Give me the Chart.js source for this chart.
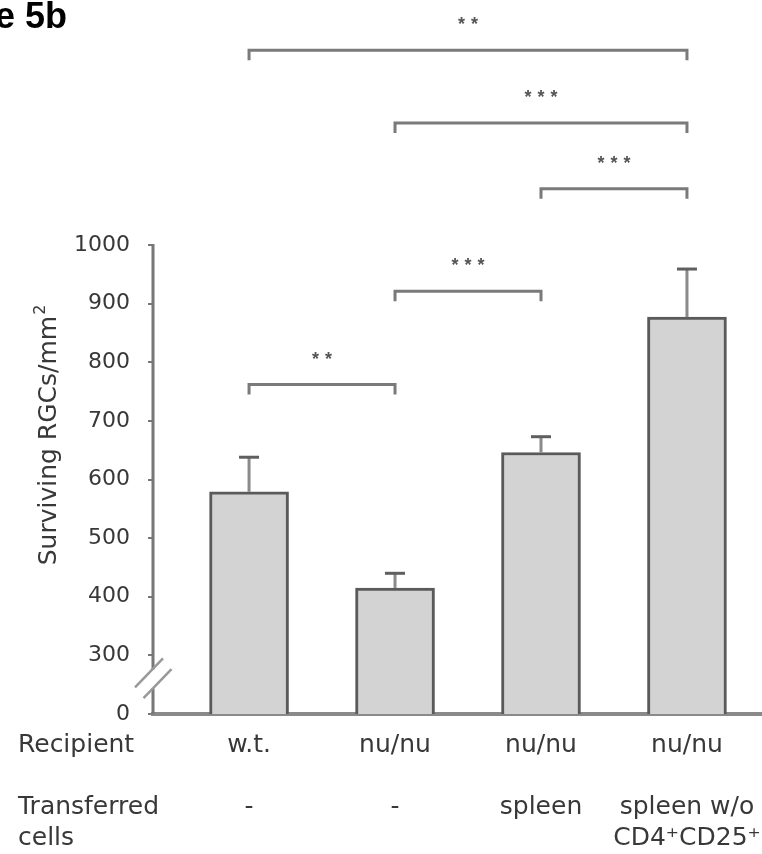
<!DOCTYPE html>
<html><head><meta charset="utf-8">
<script src="https://cdn.jsdelivr.net/npm/chart.js@4/dist/chart.umd.min.js"></script>
<style>html,body{margin:0;padding:0;background:#fff;overflow:hidden}canvas{display:block}</style>
</head><body>
<canvas id="c" width="762" height="854"></canvas>
<script>
// ---- data ----
const recipients = ['w.t.', 'nu/nu', 'nu/nu', 'nu/nu'];
const transferredCells = [['-'], ['-'], ['spleen'], ['spleen w/o', 'CD4⁺CD25⁺']];
const meanRGCs = [579, 415, 646, 877];
const semRGCs = [59, 25, 27, 82];
const yAxisMin = 200;          // shown as "0" below the axis break
const yAxisMax = 1000;
const yAxisStep = 100;
const rowTitles = ['Recipient', '', 'Transferred', 'cells'];
const bracketFrom = [0, 1, 2, 1, 0];
const bracketTo = [1, 2, 3, 3, 3];
const bracketLevel = [762, 921, 1096, 1208, 1332];
const bracketStars = ['**', '***', '***', '***', '**'];
const yTitle = 'Surviving RGCs/mm';
const yTitleSup = '2';
const panelTitle = 'e 5b';

const FONT = 'DejaVu Sans';
const TEXT = '#383838';
const positions = recipients.map((_, i) => i + 1);

const decor = {
  id: 'decor',
  afterDatasetsDraw(chart) {
    const ctx = chart.ctx, y = chart.scales.y;
    const meta = chart.getDatasetMeta(0);
    ctx.save();
    ctx.lineCap = 'butt';
    meta.data.forEach((bar, i) => {
      const top = y.getPixelForValue(meanRGCs[i] + semRGCs[i]);
      ctx.strokeStyle = '#8a8a8a'; ctx.lineWidth = 3;
      ctx.beginPath(); ctx.moveTo(bar.x, bar.y); ctx.lineTo(bar.x, top); ctx.stroke();
      ctx.strokeStyle = '#5f5f5f';
      ctx.beginPath(); ctx.moveTo(bar.x - 10, top); ctx.lineTo(bar.x + 10, top); ctx.stroke();
    });
    ctx.restore();
  },
  afterDraw(chart) {
    const ctx = chart.ctx, x = chart.scales.x, y = chart.scales.y, area = chart.chartArea;
    ctx.save();
    // y axis line with break
    const ax = area.left;
    ctx.strokeStyle = '#777'; ctx.lineWidth = 3;
    ctx.beginPath();
    ctx.moveTo(ax, y.getPixelForValue(yAxisMax) - 1); ctx.lineTo(ax, y.getPixelForValue(276));
    ctx.moveTo(ax, y.getPixelForValue(244)); ctx.lineTo(ax, area.bottom);
    ctx.stroke();
    ctx.strokeStyle = '#999'; ctx.lineWidth = 2.5;
    [[270, -4], [252, 4.5]].forEach(([v, dx]) => {
      const cy = y.getPixelForValue(v), cx = ax + dx;
      ctx.beginPath(); ctx.moveTo(cx - 14, cy + 14.5); ctx.lineTo(cx + 14, cy - 14.5); ctx.stroke();
    });
    // significance brackets
    ctx.lineWidth = 3; ctx.strokeStyle = '#7a7a7a'; ctx.lineJoin = 'miter';
    ctx.fillStyle = '#555';
    ctx.font = 'bold 18px "Liberation Sans"';
    ctx.textAlign = 'center'; ctx.textBaseline = 'alphabetic';
    try { ctx.letterSpacing = '6px'; } catch (e) {}
    bracketFrom.forEach((f, k) => {
      const x1 = x.getPixelForValue(positions[f]);
      const x2 = x.getPixelForValue(positions[bracketTo[k]]);
      const yy = y.getPixelForValue(bracketLevel[k]);
      ctx.beginPath();
      ctx.moveTo(x1, yy + 10); ctx.lineTo(x1, yy); ctx.lineTo(x2, yy); ctx.lineTo(x2, yy + 10);
      ctx.stroke();
      ctx.fillText(bracketStars[k], (x1 + x2) / 2 + 3, yy - 20);
    });
    try { ctx.letterSpacing = '0px'; } catch (e) {}
    // row titles
    ctx.fillStyle = TEXT;
    ctx.font = '25px "' + FONT + '"';
    ctx.textAlign = 'left'; ctx.textBaseline = 'middle';
    rowTitles.forEach((t, i) => { if (t) ctx.fillText(t, 18, area.bottom + 16 + 31 * (i + 0.5)); });
    // y title
    ctx.save();
    ctx.translate(56, area.top + 190);
    ctx.rotate(-Math.PI / 2);
    ctx.textBaseline = 'alphabetic';
    ctx.font = '25px "' + FONT + '"';
    const w = ctx.measureText(yTitle).width;
    ctx.font = '16px "' + FONT + '"';
    const sw = ctx.measureText(yTitleSup).width;
    const total = w + sw + 1;
    ctx.font = '25px "' + FONT + '"';
    ctx.fillText(yTitle, -total / 2, 0);
    ctx.font = '16px "' + FONT + '"';
    ctx.fillText(yTitleSup, -total / 2 + w + 1, -11);
    ctx.restore();
    // panel title
    ctx.fillStyle = '#000';
    ctx.font = 'bold 36px "Liberation Sans"';
    ctx.textAlign = 'right'; ctx.textBaseline = 'alphabetic';
    ctx.fillText(panelTitle, 67, 28);
    ctx.restore();
  }
};

new Chart(document.getElementById('c'), {
  type: 'bar',
  data: {
    datasets: [{
      data: positions.map((p, i) => ({ x: p, y: meanRGCs[i] })),
      backgroundColor: '#d3d3d3',
      borderColor: '#5a5a5a',
      borderWidth: 3,
      barThickness: 79
    }]
  },
  options: {
    responsive: false, animation: false, devicePixelRatio: 1,
    layout: { padding: { top: 245, left: 0, right: 0, bottom: 0 } },
    plugins: { legend: { display: false }, tooltip: { enabled: false } },
    scales: {
      x: {
        type: 'linear', min: 0.342, max: 4.514, offset: false,
        afterBuildTicks(s) { s.ticks = positions.map(v => ({ value: v })); },
        afterFit(s) { s.height = 140; s.paddingLeft = 0; s.paddingRight = 0; },
        grid: { display: false, drawTicks: false, offset: false },
        border: { display: true, color: '#8a8a8a', width: 4 },
        ticks: {
          autoSkip: false, maxRotation: 0, minRotation: 0, padding: 16, color: TEXT,
          font: { family: FONT, size: 25, lineHeight: 1.24 },
          callback: (v, i) => [recipients[i], '', ...transferredCells[i]]
        }
      },
      y: {
        min: yAxisMin, max: yAxisMax,
        afterFit(s) { s.width = 153; },
        border: { display: false },
        grid: { drawOnChartArea: false, drawTicks: true, tickLength: 5, color: '#777', lineWidth: 2 },
        ticks: {
          stepSize: yAxisStep, padding: 18, color: TEXT,
          font: { family: FONT, size: 22 },
          callback: v => v === yAxisMin ? '0' : String(v)
        }
      }
    }
  },
  plugins: [decor]
});
</script>
</body></html>
